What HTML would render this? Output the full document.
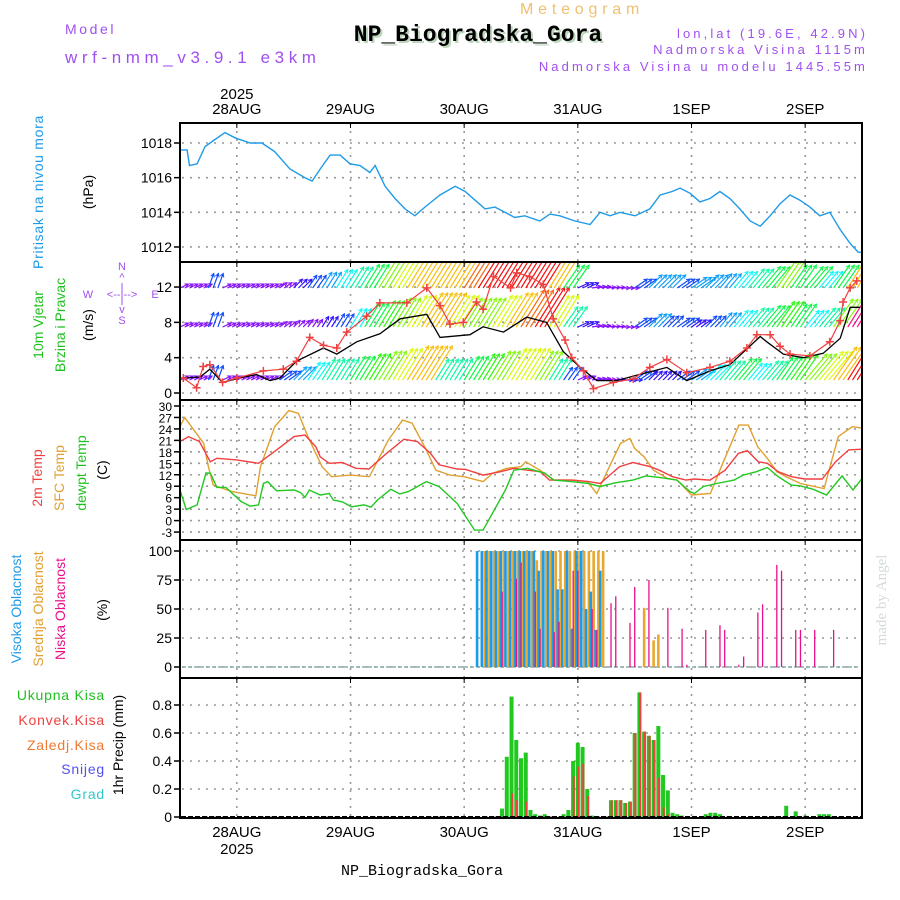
<!DOCTYPE html>
<html><head><meta charset="utf-8">
<style>
html,body{margin:0;padding:0;background:#fff;}
svg{display:block;font-family:"Liberation Sans",sans-serif;}
</style></head>
<body>
<svg id="chart" width="900" height="900" viewBox="0 0 900 900">
<defs>
<clipPath id="cpP"><rect x="180" y="123" width="682" height="139"/></clipPath>
<clipPath id="cpW"><rect x="180" y="263" width="682" height="137"/></clipPath>
<clipPath id="cpT"><rect x="180" y="401" width="682" height="139"/></clipPath>
<clipPath id="cpC"><rect x="180" y="541" width="682" height="137"/></clipPath>
<clipPath id="cpR"><rect x="180" y="679" width="682" height="139"/></clipPath>
</defs>
<g id="header">
<text x="520" y="14" font-size="16" fill="#f0c070" letter-spacing="4.8">Meteogram</text>
<text x="65" y="34" font-size="14" fill="#a050f0" letter-spacing="2.6">Model</text>
<text x="65" y="63" font-size="17" fill="#a050f0" letter-spacing="4.6">wrf-nmm_v3.9.1 e3km</text>
<text x="480" y="43" text-anchor="middle" font-family="Liberation Mono, monospace" font-weight="bold" font-size="23" fill="#bcd6bc">NP_Biogradska_Gora</text>
<text x="478" y="41" text-anchor="middle" font-family="Liberation Mono, monospace" font-weight="bold" font-size="23" fill="#000">NP_Biogradska_Gora</text>
<text x="868" y="38" text-anchor="end" font-size="13" fill="#a050f0" letter-spacing="3.1">lon,lat (19.6E, 42.9N)</text>
<text x="868" y="54" text-anchor="end" font-size="13" fill="#a050f0" letter-spacing="3.1">Nadmorska Visina 1115m</text>
<text x="868" y="71" text-anchor="end" font-size="13" fill="#a050f0" letter-spacing="3.1">Nadmorska Visina u modelu 1445.55m</text>
<text x="422" y="875" text-anchor="middle" font-family="Liberation Mono, monospace" font-size="15" fill="#000">NP_Biogradska_Gora</text>
<text transform="translate(886,600) rotate(-90)" text-anchor="middle" font-size="15" fill="#d4dcd4" font-family="Liberation Serif, serif">made by Angel</text>
</g>
<g id="leftlabels" font-size="14">
<text transform="translate(43,192) rotate(-90)" text-anchor="middle" fill="#1e9be8" letter-spacing="0.7">Pritisak na nivou mora</text>
<text transform="translate(93,192) rotate(-90)" text-anchor="middle" fill="#000">(hPa)</text>
<text transform="translate(43,325) rotate(-90)" text-anchor="middle" fill="#20c020">10m Vjetar</text>
<text transform="translate(65,325) rotate(-90)" text-anchor="middle" fill="#20c020">Brzina i Pravac</text>
<text transform="translate(93,325) rotate(-90)" text-anchor="middle" fill="#000">(m/s)</text>
<g fill="#a050f0" font-size="11" text-anchor="middle">
<text x="88" y="298">W</text>
<text x="122" y="298">&lt;-- --&gt;</text>
<text x="155" y="298">E</text>
<text x="122" y="270">N</text>
<text x="122" y="281">^</text>
<line x1="122" y1="283" x2="122" y2="305" stroke="#a050f0" stroke-width="1"/>
<text x="122" y="313">v</text>
<text x="122" y="324">S</text>
</g>
<text transform="translate(42,478) rotate(-90)" text-anchor="middle" fill="#f04040">2m Temp</text>
<text transform="translate(64,478) rotate(-90)" text-anchor="middle" fill="#e0a030">SFC Temp</text>
<text transform="translate(86,473) rotate(-90)" text-anchor="middle" fill="#20c020">dewpt Temp</text>
<text transform="translate(107,470) rotate(-90)" text-anchor="middle" fill="#000">(C)</text>
<text transform="translate(21,609) rotate(-90)" text-anchor="middle" fill="#1e9be8">Visoka Oblacnost</text>
<text transform="translate(43,609) rotate(-90)" text-anchor="middle" fill="#e0a030">Srednja Oblacnost</text>
<text transform="translate(65,609) rotate(-90)" text-anchor="middle" fill="#e8108a">Niska Oblacnost</text>
<text transform="translate(107,610) rotate(-90)" text-anchor="middle" fill="#000">(%)</text>
<g text-anchor="end" font-size="14" letter-spacing="0.8">
<text x="105" y="700" fill="#20c020">Ukupna  Kisa</text>
<text x="105" y="725" fill="#f04040">Konvek.Kisa</text>
<text x="105" y="750" fill="#f07830">Zaledj.Kisa</text>
<text x="105" y="774" fill="#5050f0">Snijeg</text>
<text x="105" y="799" fill="#30c8c8">Grad</text>
</g>
<text transform="translate(123,745) rotate(-90)" text-anchor="middle" fill="#000">1hr Precip (mm)</text>
</g>
<g id="grid"></g>
<g id="series"></g>
<g id="frame"></g>
</svg>
<script>
// ---------- DATA ----------
const dayLabels = ["28AUG","29AUG","30AUG","31AUG","1SEP","2SEP"];
const dayHours = [12,36,60,84,108,132];
const pressTicks = [1012,1014,1016,1018];
const windTicks = [0,4,8,12];
const tempTicks = [-3,0,3,6,9,12,15,18,21,24,27,30];
const cloudTicks = [0,25,50,75,100];
const precipTicks = [0,0.2,0.4,0.6,0.8];

const pressHours = [0,1.5,2,3.6,5.3,7.4,9.5,11.6,14.8,17.3,20,23.2,26.4,27.9,29.6,31.7,33.8,35.9,38,40.1,41.2,43.3,45.4,47.5,49.6,51.7,54.9,58.1,60.2,62.3,64.4,66.5,68.6,70.7,72.8,76,78.1,80.2,83.4,86.6,88.7,90.8,92.9,96.1,99.2,101.4,103.9,105.6,107.7,109.8,111.9,114,116.1,118.2,120.4,122.5,124.6,126.7,128.8,130.9,133,135.1,137.2,139.4,141.5,143.2,144];
const pressVals = [1017.6,1017.6,1016.7,1016.8,1017.8,1018.2,1018.6,1018.3,1018,1018,1017.5,1016.5,1016,1015.8,1016.5,1017.3,1017.3,1016.8,1016.7,1016.3,1016.7,1015.5,1014.8,1014.2,1013.8,1014.3,1015,1015.5,1015.2,1014.7,1014.2,1014.3,1014,1013.7,1013.8,1013.5,1013.9,1013.8,1013.5,1013.3,1014,1013.8,1014,1013.8,1014.2,1015,1015.2,1015.4,1015.1,1014.6,1014.8,1015.2,1014.8,1014.2,1013.5,1013.2,1013.8,1014.5,1015,1014.7,1014.3,1013.8,1014,1013,1012.2,1011.7,1011.7];

const sfcHours = [0,1,5,6,7,11,16,17,20,23,25,27,30,32,36,40,44,47,49,52,54,57,60,64,66,69,72,73,76,79,83,86,88,90,93,95,96,98,100,103,105,108,112,114,118,120,122,124,126,128,131,136,139,142,144];
const sfcVals = [24.6,27,20.2,14.1,9.3,7.6,6.5,14.1,24.6,28.8,28.1,22,14.1,11.5,11.9,11.5,21.1,26.3,25.5,18.5,13.2,11.9,11.5,10.2,12.4,13.7,14.1,15.4,13.2,10.6,10.6,10.2,7.1,12.4,20.2,21.5,18.9,16.7,13.2,11,10.6,6.7,7.1,13.2,25,25,19.3,16.3,12.8,11.5,9.7,8.4,22,24.6,24.2];
const t2Hours = [0,1.8,4.1,6.4,7.8,12,16.6,20.4,24.1,26.4,28.7,29.6,31.5,34.3,37.1,39.9,43.6,47.3,50.1,52.9,54.7,58.5,60.3,64,67.7,70.5,73.3,76.1,78,82.6,86.3,88.7,92.8,95.6,99.3,101.2,104,106.8,108.6,111.9,115.1,117.9,119.8,122.1,124,126.3,129.1,131.9,135.6,138.4,141.2,144];
const t2Vals = [20.7,22,20.7,15.4,16.3,15.9,15,18.5,22,22.4,19.3,16.7,15,15.2,13.7,13.5,17.6,21.3,20.7,17.6,14.6,13.5,13.4,11.9,12.8,13.7,13.2,12.8,10.6,10.6,10.2,9.7,14.1,15.2,14.1,13.2,11.5,10.6,10.9,10.6,13.2,17.6,18.3,15.4,15,12.8,11.5,10.9,10.9,15.4,18.5,18.7];
const dewHours = [0,1.3,3.6,5.5,6.4,7.8,9.7,12.9,14.8,16.6,17.6,18.5,20.4,24.1,25.5,26.4,27.3,29.6,31.5,32.4,34.3,36.2,38.9,40.3,41.7,44.5,46.4,48.2,52,54.7,58.5,62.2,64,68.7,70.5,73.3,77,78.9,82.6,86.3,88.7,91.9,95.6,98.4,101.2,104.9,107.7,108.6,110.5,113.3,117,118.9,121.7,124,126.3,129.1,130.9,133.7,136.5,139.8,142.1,144];
const dewVals = [8,2.9,4.1,12.5,12.4,8.7,8.7,5,3.8,4.1,9.7,10.2,7.8,8,7.3,6.1,8,6.7,7.1,5.4,4.9,3.6,4.1,3.5,5.4,8.2,7,7.6,10.2,8.9,4.5,-2.5,-2.5,8,13.2,13.7,12.4,10.6,10.2,9.7,8.9,9.9,10.6,11.7,11.3,10.6,7.6,7.1,8.9,9.7,10.6,11.9,12.8,13.9,11.5,9.3,9.1,8.2,6.7,11.7,8,11];

const windHours = [0.4,4.2,6.3,9,13.3,16.2,19,21.1,24.6,30.3,33.1,37.3,42.2,46.5,52.1,54.9,61.2,64,68.3,73.2,77.4,80.9,84.5,88,92.2,96.4,102.8,107,111.9,116.1,122.5,123.9,127.4,131.6,135.8,139.4,141.5,143.6];
const windVals = [1.7,1.8,2.7,1.2,1.8,2.1,1.4,1.7,3.6,5.1,4.4,5.8,6.7,8.4,8.9,6.3,6.6,7.5,6.9,8.6,8.0,4.7,2.9,1.4,1.4,2.0,2.9,1.4,2.5,3.2,6.4,5.8,4.4,4.0,4.5,6.2,9.7,9.7];
const gustHours = [0.7,3.5,4.9,6.3,9,12,17.6,21.8,24.6,27.4,30.3,33.1,35.2,39.4,42.2,47.9,52.1,54.9,57,59.8,62.6,64,66.2,69.8,71.1,73.8,76.7,78.8,81.3,82.7,85.2,87.3,91.5,95.7,99.2,102.8,107,111.9,116.1,119.7,121.8,124.6,126.7,128.8,133,137.2,139.4,140,141.5,142.9];
const gustVals = [1.7,0.6,3.0,3.2,1.2,1.7,2.5,2.7,3.6,6.3,5.4,5.1,6.9,8.7,10.2,10.2,11.9,9.9,7.8,8.0,10.3,9.5,13.2,11.9,13.6,13.2,12.3,8.4,6.0,4.0,2.5,0.5,1.2,1.6,2.9,3.8,2.3,2.9,3.6,5.1,6.6,6.6,5.3,4.4,4.2,5.8,8.2,10.3,11.9,12.7];

// wind barbs: 3-hourly speeds for three levels
const barbHours = [0,3,6,9,12,15,18,21,24,27,30,33,36,39,42,45,48,51,54,57,60,63,66,69,72,75,78,81,84,87,90,93,96,99,102,105,108,111,114,117,120,123,126,129,132,135,138,141];
const barbSpeed1 = [3,3,5,3,3,3,3,5,6,7,8,8,9,10,11,12,13,13,8,8,9,10,11,12,12,11,8,5,3,3,3,4,5,4,4,5,6,7,8,9,7,8,9,10,11,12,13,15];
const barbSpeed2 = [3,3,5,3,3,3,3,3,3,3,4,5,7,9,10,11,12,13,13,12,11,11,12,13,14,15,12,8,4,3,3,3,5,6,5,5,4,5,6,7,8,9,10,9,7,8,11,16];
const barbSpeed3 = [3,3,5,3,3,3,3,3,4,5,6,7,8,9,11,12,13,13,13,13,14,15,15,15,15,15,13,9,4,3,3,3,5,6,6,5,6,6,6,7,8,9,11,9,9,7,9,13];
const barbDir = [25,25,70,25,25,25,25,35,45,55,58,58,58,58,58,58,58,58,58,58,58,58,58,58,58,58,58,55,25,10,5,0,35,45,45,35,35,45,50,50,50,50,55,55,50,50,55,58];

// cloud cover (%), hourly from hour 63
const cloudHours = [63,64,65,66,67,68,69,70,71,72,73,74,75,76,77,78,79,80,81,82,83,84,85,86,87,88,89];
const highCloud = [100,100,100,100,100,100,100,100,100,100,100,100,100,83,100,100,100,67,67,100,33,100,100,50,65,32,83];
const midCloud = [0,100,100,100,100,100,100,100,100,100,100,100,92,100,100,100,100,100,100,100,100,100,100,100,100,100,100];
const lowHours = [68,71,72,75,76,79,80,83,84,87,88,91,92,95,96,99,103,106,107,111,114,115,118,119,122,123,126,127,130,131,134,138];
const lowCloud = [65,76,90,65,33,30,39,83,83,50,32,55,61,38,69,75,51,33,2,32,36,32,2,9,47,54,88,83,32,32,32,32];
const midLateHours = [98,100,101];
const midLate = [51,23,28];

// precipitation (mm/h)
const precipHours = [68,69,70,71,72,73,74,75,76,77,81,82,83,84,85,86,87,91,92,93,94,95,96,97,98,99,100,101,102,103,104,105,106,111,112,113,114,128,130,132,135,136,137];
const totalPrecip = [0.06,0.43,0.86,0.55,0.42,0.46,0.05,0.02,0.01,0.02,0.02,0.05,0.40,0.53,0.50,0.20,0.01,0.12,0.12,0.12,0.10,0.11,0.60,0.89,0.61,0.58,0.55,0.65,0.30,0.19,0.03,0.02,0.01,0.02,0.03,0.03,0.02,0.08,0.04,0.01,0.02,0.02,0.02];
const convPrecip = [0,0,0.17,0.12,0,0.11,0,0,0,0,0,0,0.29,0.36,0.38,0.15,0,0.12,0.12,0.12,0.10,0.11,0.60,0.89,0.61,0.58,0.55,0.28,0.07,0.02,0,0,0,0,0,0,0,0,0,0,0,0,0];

// ---------- AXES ----------
const NS = "http://www.w3.org/2000/svg";
const X = h => 180 + h * 682 / 144;
const YP = v => 143 + (1018 - v) * 17.33;
const YW = v => 393 - v * 8.83;
const YT = v => 406 + (30 - v) * 3.82;
const YC = v => 667 - v * 1.16;
const YR = v => 817 - v * 140;
const panels = [[123,262],[262,400],[400,540],[540,678],[678,818]];

function mk(tag, attrs, parent) {
  const e = document.createElementNS(NS, tag);
  for (const k in attrs) e.setAttribute(k, attrs[k]);
  parent.appendChild(e);
  return e;
}
const grid = document.getElementById('grid');
const series = document.getElementById('series');
const frame = document.getElementById('frame');

panels.forEach((p) => {
  dayHours.forEach(h => {
    const l = mk('line', {x1:X(h), x2:X(h), y1:p[0], y2:p[1], stroke:'#999', 'stroke-width':1.6, 'stroke-dasharray':'2,6'}, grid);
    
    
  });
});
function hgrid(ticks, Y, fmt, fs, name) {
  ticks.forEach(t => {
    const y = Y(t);
    const l = mk('line', {x1:182, x2:860, y1:y, y2:y, stroke:'#999', 'stroke-width':1.6, 'stroke-dasharray':'2,6'}, grid);
    
    
    const tk = mk('line', {x1:174, x2:180, y1:y, y2:y, stroke:'#000', 'stroke-width':1.5}, frame);
    
    
    const tx = mk('text', {x:172, y:y+5, 'text-anchor':'end', 'font-size':fs, fill:'#000'}, frame);
    tx.textContent = fmt(t);
    
    
  });
}
hgrid(pressTicks, YP, t => t, 14, 'pressure');
hgrid(windTicks, YW, t => t, 14, 'wind');
hgrid(tempTicks, YT, t => t, 12, 'temp');
hgrid(cloudTicks, YC, t => t, 14, 'cloud');
hgrid(precipTicks, YR, t => t === 0 ? '0' : t.toFixed(1), 14, 'precip');

panels.forEach(p => {
  const r = mk('rect', {x:180, y:p[0], width:682, height:p[1]-p[0], fill:'none', stroke:'#000', 'stroke-width':2}, frame);
  
  
  dayHours.forEach(h => {
    const t = mk('line', {x1:X(h), x2:X(h), y1:p[0], y2:p[0]+5, stroke:'#000', 'stroke-width':1}, frame);
    
    
  });
});
dayHours.forEach((h, i) => {
  const t = mk('text', {x:X(h), y:114, 'text-anchor':'middle', 'font-size':15, fill:'#000'}, frame);
  t.textContent = dayLabels[i];
  
  
  const b = mk('text', {x:X(h), y:837, 'text-anchor':'middle', 'font-size':15, fill:'#000'}, frame);
  b.textContent = dayLabels[i];
  
  
});
const y1 = mk('text', {x:X(12), y:99, 'text-anchor':'middle', 'font-size':15, fill:'#000'}, frame);
y1.textContent = '2025';


const y2 = mk('text', {x:X(12), y:854, 'text-anchor':'middle', 'font-size':15, fill:'#000'}, frame);
y2.textContent = '2025';



function line(hs, vs, Y, color, clip, name, w) {
  const pts = hs.map((h, i) => X(h).toFixed(1) + ',' + Y(vs[i]).toFixed(1)).join(' ');
  const pl = mk('polyline', {points:pts, fill:'none', stroke:color, 'stroke-width':w || 1.4, 'clip-path':'url(#' + clip + ')'}, series);
  
  
  return pl;
}
line(pressHours, pressVals, YP, '#1e9be8', 'cpP', 'pressure-line');

function speedColor(s) {
  let hue = 270 - (s - 3) * 22.5;
  if (hue < 0) hue += 360;
  if (s > 15) hue = 330;
  return 'hsl(' + hue.toFixed(0) + ',95%,52%)';
}
const barbG = mk('g', {'clip-path':'url(#cpW)'}, series);


[[barbSpeed1, 380], [barbSpeed2, 327], [barbSpeed3, 288]].forEach((row) => {
  const sp = row[0], base = row[1];
  barbHours.forEach((h, i) => {
    for (let k = 0; k < 3; k++) {
      const s = sp[i];
      const a = barbDir[i] * Math.PI / 180;
      const L = s * 3.1;
      const x0 = X(h + k), y0 = base;
      const x1 = x0 + L * Math.cos(a), yy1 = y0 - L * Math.sin(a);
      const c = speedColor(s);
      const ar = mk('line', {x1:x0, y1:y0, x2:x1, y2:yy1, stroke:c, 'stroke-width':1.2}, barbG);
      
      
      const hd = mk('polyline', {points:(x1 - 4*Math.cos(a-0.5)) + ',' + (yy1 + 4*Math.sin(a-0.5)) + ' ' + x1 + ',' + yy1 + ' ' + (x1 - 4*Math.cos(a+0.5)) + ',' + (yy1 + 4*Math.sin(a+0.5)), fill:'none', stroke:c, 'stroke-width':1}, barbG);
      
      
    }
  });
});
line(windHours, windVals, YW, '#000', 'cpW', 'wind-speed-line', 1.3);
line(gustHours, gustVals, YW, '#f04040', 'cpW', 'wind-gust-line', 1.2);
gustHours.forEach((h, i) => {
  const x = X(h), y = YW(gustVals[i]);
  const c = mk('path', {d:'M' + (x-4) + ',' + y + 'H' + (x+4) + 'M' + x + ',' + (y-4) + 'V' + (y+4), stroke:'#f04040', 'stroke-width':1.5, 'clip-path':'url(#cpW)'}, series);
  
  
});

line(sfcHours, sfcVals, YT, '#e0a030', 'cpT', 'sfc-temp-line');
line(t2Hours, t2Vals, YT, '#f04040', 'cpT', 'temp-2m-line');
line(dewHours, dewVals, YT, '#20c820', 'cpT', 'dewpoint-line');

const zl = mk('line', {x1:182, x2:860, y1:YC(0), y2:YC(0), stroke:'#8aa', 'stroke-width':1.5, 'stroke-dasharray':'4,2'}, series);


function bar(h, v, Y, color, dx, w, name) {
  if (v <= 0) return;
  const r = mk('rect', {x:X(h)+dx, y:Y(v), width:w, height:Y(0)-Y(v), fill:color}, series);
  
  
}
cloudHours.forEach((h, i) => {
  bar(h, highCloud[i], YC, '#1e9be8', -2.6, 2.6, 'high-cloud-bar');
  bar(h, midCloud[i], YC, '#e8a830', 0.3, 2.6, 'mid-cloud-bar');
});
midLateHours.forEach((h, i) => bar(h, midLate[i], YC, '#e8a830', -1.3, 2.6, 'mid-cloud-bar'));
lowHours.forEach((h, i) => bar(h, lowCloud[i], YC, '#e8108a', -0.6, 1.3, 'low-cloud-bar'));

precipHours.forEach((h, i) => {
  bar(h, totalPrecip[i], YR, '#20c820', -2, 4, 'total-precip-bar');
  bar(h, convPrecip[i], YR, '#f04040', -0.3, 2, 'convective-precip-bar');
});
const pz = mk('line', {x1:181, x2:861, y1:YR(0), y2:YR(0), stroke:'#000', 'stroke-width':2, 'stroke-dasharray':'5,2'}, series);


</script>
</body></html>
